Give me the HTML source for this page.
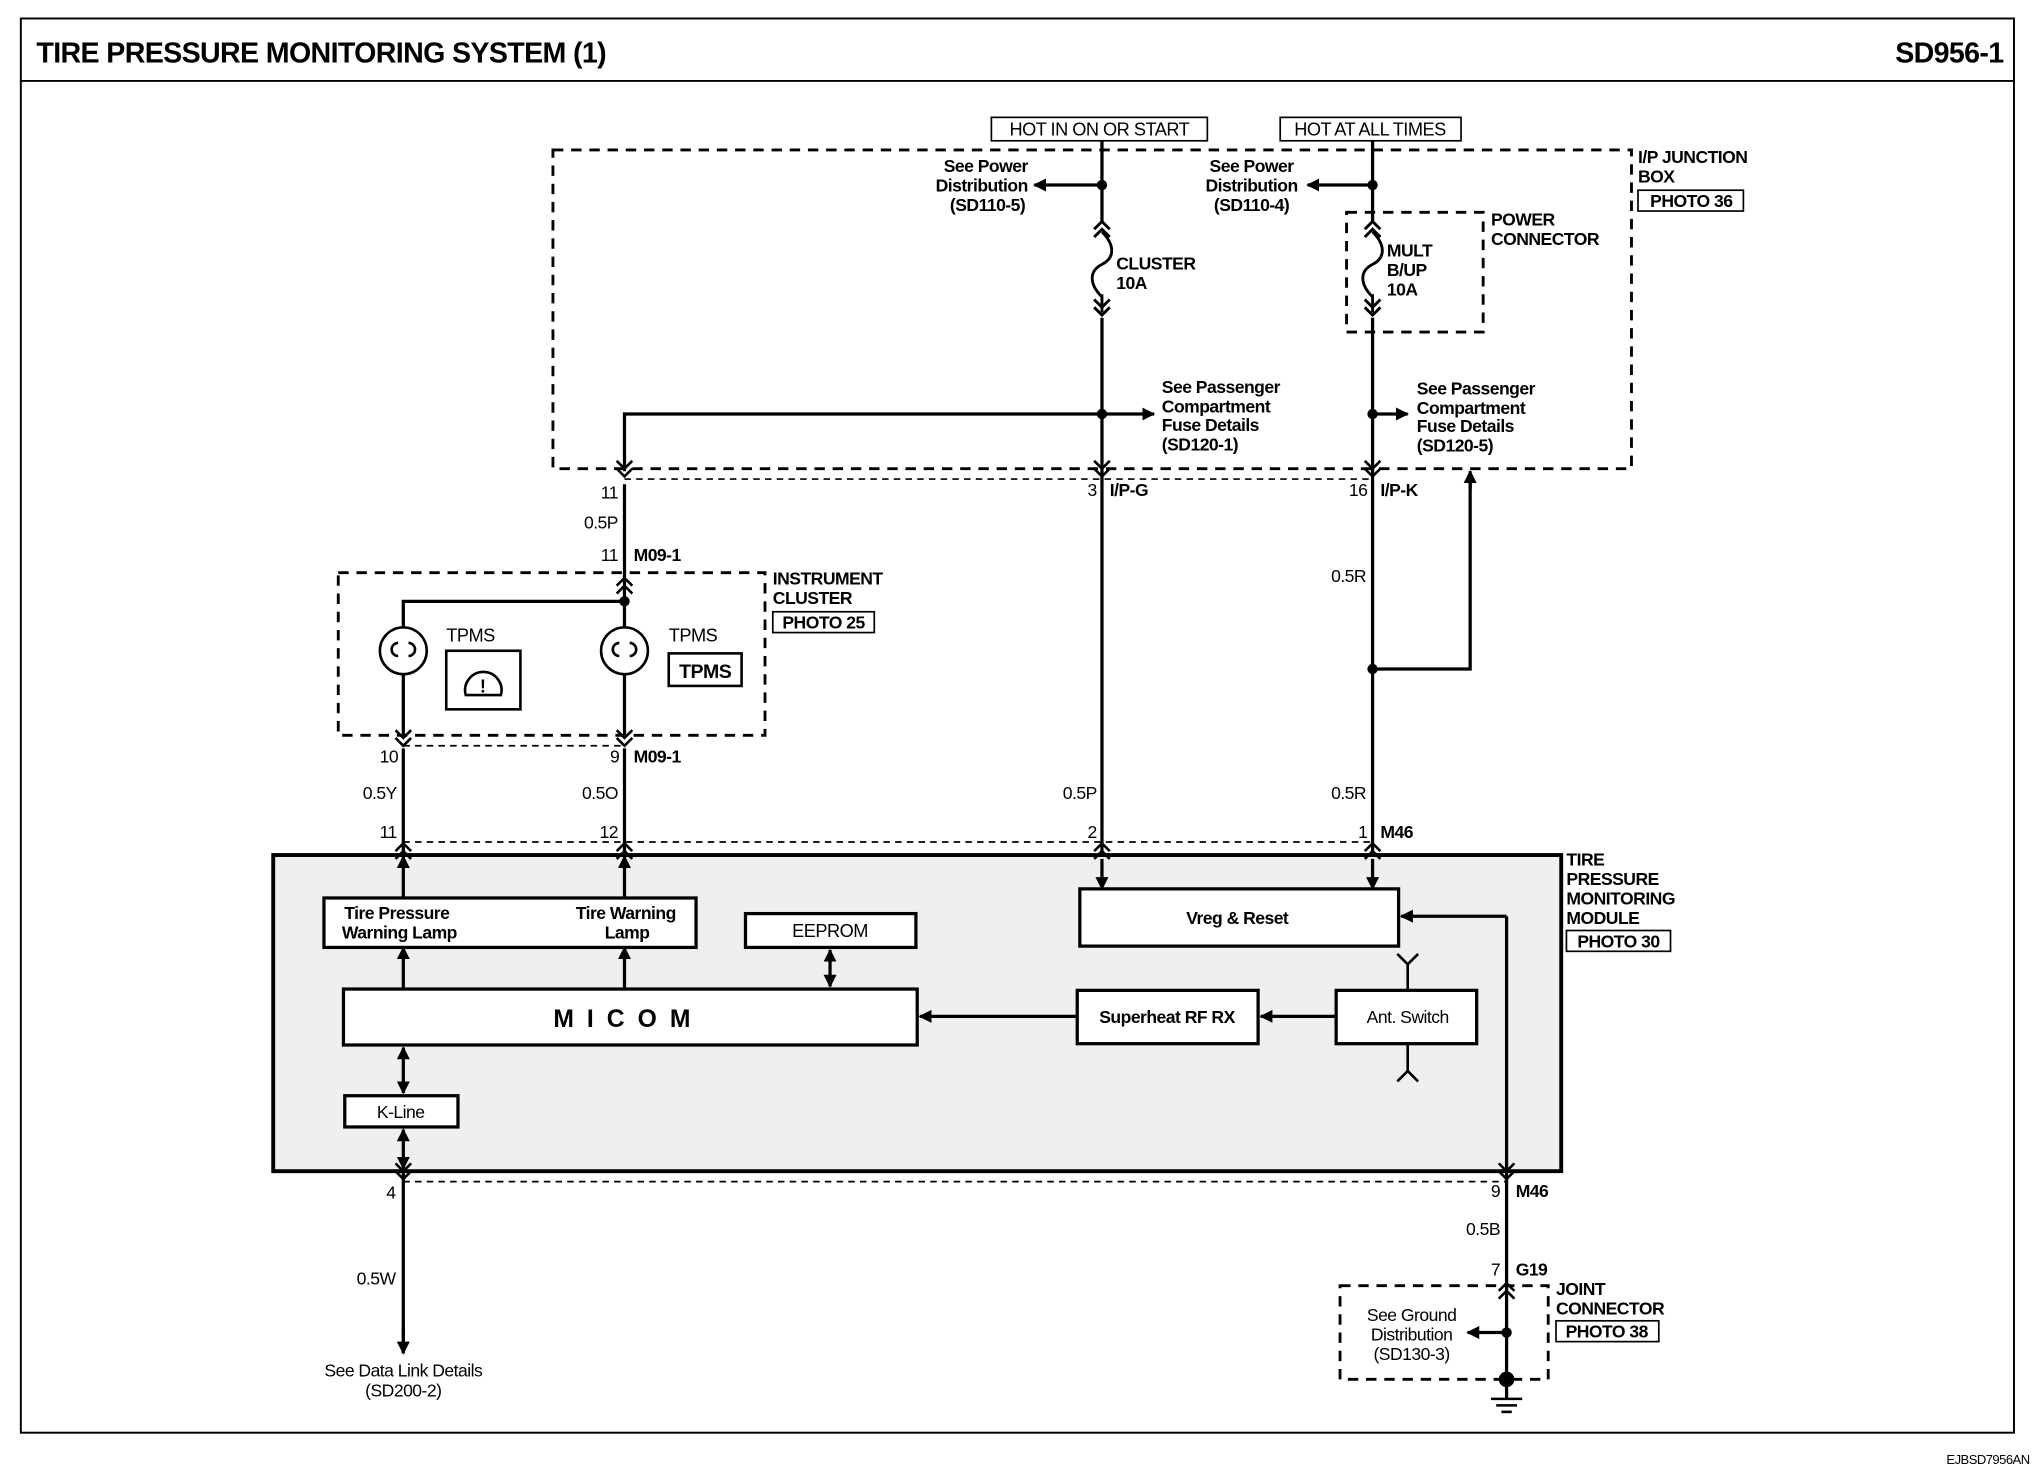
<!DOCTYPE html>
<html><head><meta charset="utf-8"><style>
html,body{margin:0;padding:0;background:#fff}
svg{display:block}
text{font-family:"Liberation Sans",sans-serif;font-weight:bold;font-size:13.5px;fill:#000;letter-spacing:-0.4px}
</style></head><body>
<svg width="2040" height="1472" viewBox="0 0 1568 1131" xmlns="http://www.w3.org/2000/svg">
<defs>
<marker id="ar" viewBox="0 0 10 10" refX="9" refY="5" markerWidth="4" markerHeight="4" orient="auto-start-reverse"><path d="M0,0L10,5L0,10z" fill="#000"/></marker>
<g id="fuse" fill="none" stroke="#000" stroke-width="2.2">
<path d="M-6,8L0,2L6,8M-6,14L0,8L6,14"/>
<path d="M0,10 C10,20 10,30 0,35 C-10,40 -10,50 0,60"/>
<path d="M0,58V72M-6,62L0,68L6,62M-6,68L0,74L6,68"/>
</g>
<g id="chev" fill="none" stroke="#000" stroke-width="2"><path d="M-6,-4L0,2L6,-4M-6,2L0,8L6,2"/></g>
<g id="chevu" fill="none" stroke="#000" stroke-width="2"><path d="M-6,4L0,-2L6,4M-6,10L0,4L6,10"/></g>
</defs>
<rect x="0" y="0" width="1568" height="1131" fill="#fff"/>
<rect x="16" y="14" width="1532" height="1087" fill="none" stroke="#000" stroke-width="1.5"/>
<line x1="16" y1="62" x2="1548" y2="62" stroke="#000" stroke-width="1.5"/>
<text x="28" y="48" style="font-size:22px;letter-spacing:-0.5px">TIRE PRESSURE MONITORING SYSTEM (1)</text>
<text x="1540" y="48" text-anchor="end" style="font-size:22px;letter-spacing:-0.5px">SD956-1</text>
<text x="1560" y="1125" text-anchor="end" style="font-size:10px;font-weight:normal">EJBSD7956AN</text>

<g stroke="#000" stroke-width="1.3" fill="none">
<rect x="762" y="90" width="166" height="18"/>
<rect x="984" y="90" width="139" height="18"/>
<rect x="1259" y="146" width="81" height="16"/>
<rect x="594" y="470" width="78" height="16"/>
<rect x="1204" y="715" width="80" height="16"/>
<rect x="1196" y="1015" width="79" height="16"/>
</g>
<text x="845" y="104" text-anchor="middle" style="font-weight:normal;font-size:14px">HOT IN ON OR START</text>
<text x="1053" y="104" text-anchor="middle" style="font-weight:normal;font-size:14px">HOT AT ALL TIMES</text>

<g fill="none" stroke="#000" stroke-width="2.2" stroke-dasharray="8,6">
<rect x="425" y="115" width="829" height="245"/>
<rect x="1035" y="163" width="105" height="92"/>
<rect x="260" y="440" width="328" height="125"/>
<rect x="1030" y="988" width="160" height="72"/>
</g>
<g fill="none" stroke="#000" stroke-width="1.3" stroke-dasharray="5,4">
<line x1="480" y1="368" x2="1055" y2="368"/>
<line x1="310" y1="573" x2="480" y2="573"/>
<line x1="310" y1="647" x2="1055" y2="647"/>
<line x1="310" y1="908" x2="1158" y2="908"/>
</g>

<rect x="210" y="657" width="990" height="243" fill="#efefef" stroke="#000" stroke-width="3"/>

<g stroke="#000" stroke-width="2.5" fill="none">
<line x1="847" y1="108" x2="847" y2="170"/>
<line x1="847" y1="244" x2="847" y2="655"/>
<line x1="1055" y1="108" x2="1055" y2="170"/>
<line x1="1055" y1="244" x2="1055" y2="655"/>
<polyline points="847,318 480,318 480,362"/>
<polyline points="1055,514 1130,514 1130,365"/>
<line x1="480" y1="372" x2="480" y2="565"/>
<polyline points="480,462 310,462 310,565"/>
<line x1="310" y1="575" x2="310" y2="655"/>
<line x1="480" y1="575" x2="480" y2="655"/>
<line x1="310" y1="900" x2="310" y2="1040"/>
<polyline points="1158,704 1158,1075"/>
</g>
<g stroke="#000" stroke-width="2.5" fill="none">
<line x1="1130" y1="376" x2="1130" y2="362" marker-end="url(#ar)"/>
<line x1="847" y1="142" x2="795" y2="142" marker-end="url(#ar)"/>
<line x1="1055" y1="142" x2="1005" y2="142" marker-end="url(#ar)"/>
<line x1="847" y1="318" x2="887" y2="318" marker-end="url(#ar)"/>
<line x1="1055" y1="318" x2="1082" y2="318" marker-end="url(#ar)"/>
<line x1="310" y1="1020" x2="310" y2="1040" marker-end="url(#ar)"/>
<line x1="1158" y1="1024" x2="1128" y2="1024" marker-end="url(#ar)"/>
<line x1="847" y1="660" x2="847" y2="683" marker-end="url(#ar)"/>
<line x1="1055" y1="660" x2="1055" y2="683" marker-end="url(#ar)"/>
<line x1="1158" y1="704" x2="1077" y2="704" marker-end="url(#ar)"/>
<line x1="310" y1="760" x2="310" y2="728" marker-end="url(#ar)"/>
<line x1="480" y1="760" x2="480" y2="728" marker-end="url(#ar)"/>
<line x1="310" y1="690" x2="310" y2="658" marker-end="url(#ar)"/>
<line x1="480" y1="690" x2="480" y2="658" marker-end="url(#ar)"/>
<line x1="638" y1="730" x2="638" y2="758" marker-start="url(#ar)" marker-end="url(#ar)"/>
<line x1="310" y1="805" x2="310" y2="840" marker-start="url(#ar)" marker-end="url(#ar)"/>
<line x1="310" y1="868" x2="310" y2="898" marker-start="url(#ar)" marker-end="url(#ar)"/>
<line x1="828" y1="781" x2="707" y2="781" marker-end="url(#ar)"/>
<line x1="1027" y1="781" x2="969" y2="781" marker-end="url(#ar)"/>
</g>
<g fill="#000">
<circle cx="847" cy="142" r="4"/><circle cx="1055" cy="142" r="4"/>
<circle cx="847" cy="318" r="4"/><circle cx="1055" cy="318" r="4"/>
<circle cx="1055" cy="514" r="4"/><circle cx="480" cy="462" r="4"/>
<circle cx="1158" cy="1024" r="4"/><circle cx="1158" cy="1060" r="6"/>
</g>
<g stroke="#000" stroke-width="2"><line x1="1146" y1="1075" x2="1170" y2="1075"/><line x1="1150" y1="1080" x2="1166" y2="1080"/><line x1="1154" y1="1085" x2="1162" y2="1085"/></g>

<use href="#fuse" x="847" y="168"/>
<use href="#fuse" x="1055" y="168"/>
<use href="#chev" x="480" y="358"/><use href="#chev" x="847" y="358"/><use href="#chev" x="1055" y="358"/>
<use href="#chevu" x="480" y="446"/>
<use href="#chev" x="310" y="565"/><use href="#chev" x="480" y="565"/>
<use href="#chevu" x="310" y="650"/><use href="#chevu" x="480" y="650"/><use href="#chevu" x="847" y="650"/><use href="#chevu" x="1055" y="650"/>
<use href="#chev" x="310" y="898"/><use href="#chev" x="1158" y="898"/>
<use href="#chevu" x="1158" y="988"/>

<g fill="#fff" stroke="#000" stroke-width="2">
<circle cx="310" cy="500" r="18"/><circle cx="480" cy="500" r="18"/>
</g>
<g stroke="#000" stroke-width="2" fill="none">
<path d="M306,494a5,5 0 1 0 0,10M314,494a5,5 0 1 1 0,10" />
<path d="M476,494a5,5 0 1 0 0,10M484,494a5,5 0 1 1 0,10" />
<rect x="343" y="500" width="57" height="45"/>
<rect x="514" y="502" width="56" height="25"/>
<path d="M358,534 a14,14 0 1 1 27,0 z"/>
</g>
<text x="371" y="532" text-anchor="middle" style="font-size:14px">!</text>
<text x="343" y="493" style="font-weight:normal;font-size:14px">TPMS</text>
<text x="514" y="493" style="font-weight:normal;font-size:14px">TPMS</text>
<text x="542" y="521" text-anchor="middle" style="font-size:15px">TPMS</text>

<g fill="#fff" stroke="#000" stroke-width="2.5">
<rect x="249" y="690" width="286" height="38"/>
<rect x="573" y="702" width="131" height="26"/>
<rect x="830" y="683" width="245" height="44"/>
<rect x="264" y="760" width="441" height="43"/>
<rect x="828" y="761" width="139" height="41"/>
<rect x="1027" y="761" width="108" height="41"/>
<rect x="265" y="842" width="87" height="24"/>
</g>
<text x="305" y="706" text-anchor="middle">Tire Pressure</text>
<text x="307" y="721" text-anchor="middle">Warning Lamp</text>
<text x="481" y="706" text-anchor="middle">Tire Warning</text>
<text x="482" y="721" text-anchor="middle">Lamp</text>
<text x="638" y="720" text-anchor="middle" style="font-weight:normal;font-size:14px">EEPROM</text>
<text x="951" y="710" text-anchor="middle">Vreg &amp; Reset</text>
<text x="483" y="789" text-anchor="middle" style="font-size:19px;letter-spacing:10px">MICOM</text>
<text x="897" y="786" text-anchor="middle">Superheat RF RX</text>
<text x="1082" y="786" text-anchor="middle" style="font-weight:normal">Ant. Switch</text>
<text x="308" y="859" text-anchor="middle" style="font-weight:normal">K-Line</text>
<g stroke="#000" stroke-width="2" fill="none">
<path d="M1082,761V740M1074,733L1082,741L1090,733"/>
<path d="M1082,802V823M1074,831L1082,823L1090,831"/>
</g>

<text x="790" y="132" text-anchor="end">See Power</text>
<text x="790" y="147" text-anchor="end">Distribution</text>
<text x="788" y="162" text-anchor="end">(SD110-5)</text>
<text x="962" y="132" text-anchor="middle">See Power</text>
<text x="962" y="147" text-anchor="middle">Distribution</text>
<text x="962" y="162" text-anchor="middle">(SD110-4)</text>
<text x="858" y="207">CLUSTER</text><text x="858" y="222">10A</text>
<text x="1066" y="197">MULT</text><text x="1066" y="212">B/UP</text><text x="1066" y="227">10A</text>
<text x="1146" y="173">POWER</text><text x="1146" y="188">CONNECTOR</text>
<text x="1259" y="125">I/P JUNCTION</text><text x="1259" y="140">BOX</text>
<text x="1300" y="159" text-anchor="middle">PHOTO 36</text>
<text x="893" y="302">See Passenger</text><text x="893" y="317">Compartment</text><text x="893" y="331">Fuse Details</text><text x="893" y="346">(SD120-1)</text>
<text x="1089" y="303">See Passenger</text><text x="1089" y="318">Compartment</text><text x="1089" y="332">Fuse Details</text><text x="1089" y="347">(SD120-5)</text>

<text x="475" y="383" text-anchor="end" style="font-weight:normal">11</text>
<text x="475" y="406" text-anchor="end" style="font-weight:normal">0.5P</text>
<text x="475" y="431" text-anchor="end" style="font-weight:normal">11</text>
<text x="843" y="381" text-anchor="end" style="font-weight:normal">3</text>
<text x="1051" y="381" text-anchor="end" style="font-weight:normal">16</text>
<text x="1050" y="447" text-anchor="end" style="font-weight:normal">0.5R</text>
<text x="306" y="586" text-anchor="end" style="font-weight:normal">10</text>
<text x="476" y="586" text-anchor="end" style="font-weight:normal">9</text>
<text x="305" y="614" text-anchor="end" style="font-weight:normal">0.5Y</text>
<text x="475" y="614" text-anchor="end" style="font-weight:normal">0.5O</text>
<text x="843" y="614" text-anchor="end" style="font-weight:normal">0.5P</text>
<text x="1050" y="614" text-anchor="end" style="font-weight:normal">0.5R</text>
<text x="305" y="644" text-anchor="end" style="font-weight:normal">11</text>
<text x="475" y="644" text-anchor="end" style="font-weight:normal">12</text>
<text x="843" y="644" text-anchor="end" style="font-weight:normal">2</text>
<text x="1051" y="644" text-anchor="end" style="font-weight:normal">1</text>
<text x="304" y="921" text-anchor="end" style="font-weight:normal">4</text>
<text x="1153" y="920" text-anchor="end" style="font-weight:normal">9</text>
<text x="304" y="987" text-anchor="end" style="font-weight:normal">0.5W</text>
<text x="1153" y="949" text-anchor="end" style="font-weight:normal">0.5B</text>
<text x="1153" y="980" text-anchor="end" style="font-weight:normal">7</text>
<text x="310" y="1058" text-anchor="middle" style="font-weight:normal">See Data Link Details</text>
<text x="310" y="1073" text-anchor="middle" style="font-weight:normal">(SD200-2)</text>
<text x="1085" y="1015" text-anchor="middle" style="font-weight:normal">See Ground</text>
<text x="1085" y="1030" text-anchor="middle" style="font-weight:normal">Distribution</text>
<text x="1085" y="1045" text-anchor="middle" style="font-weight:normal">(SD130-3)</text>
<text x="853" y="381">I/P-G</text>
<text x="1061" y="381">I/P-K</text>
<text x="487" y="431">M09-1</text>
<text x="487" y="586">M09-1</text>
<text x="1061" y="644">M46</text>
<text x="1165" y="920">M46</text>
<text x="1165" y="980">G19</text>
<text x="594" y="449">INSTRUMENT</text><text x="594" y="464">CLUSTER</text>
<text x="633" y="483" text-anchor="middle">PHOTO 25</text>
<text x="1204" y="665">TIRE</text><text x="1204" y="680">PRESSURE</text><text x="1204" y="695">MONITORING</text><text x="1204" y="710">MODULE</text>
<text x="1244" y="728" text-anchor="middle">PHOTO 30</text>
<text x="1196" y="995">JOINT</text><text x="1196" y="1010">CONNECTOR</text>
<text x="1235" y="1028" text-anchor="middle">PHOTO 38</text>
</svg>
</body></html>
